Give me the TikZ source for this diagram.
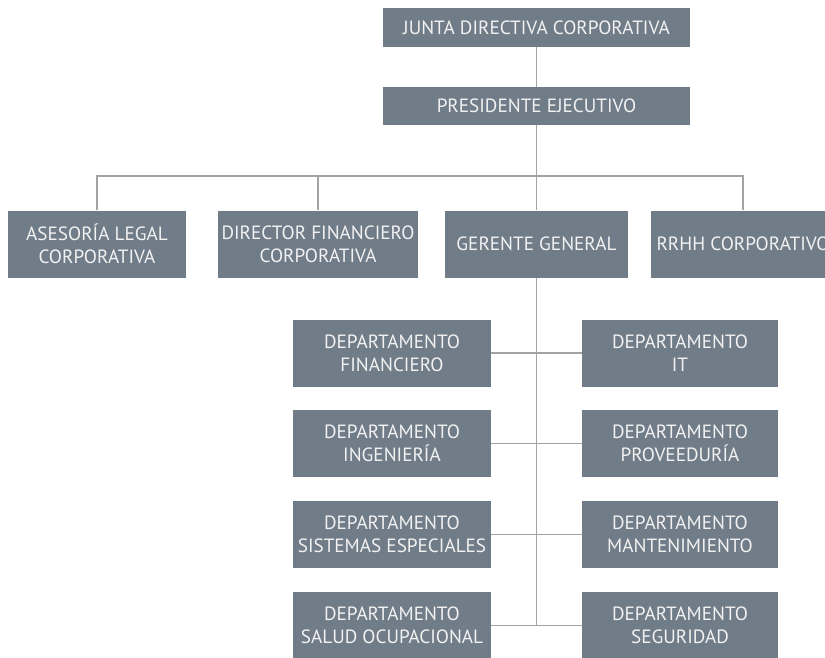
\documentclass[tikz,border=0pt]{standalone}
\usepackage{fontspec}
\setmainfont{PT Sans}
\definecolor{boxgray}{HTML}{707C88}
\definecolor{linegray}{HTML}{A3A3A3}
\tikzset{
  unit/.style={fill=boxgray, text=white!95!black, align=center, inner sep=0pt,
    font=\fontsize{19.2}{23}\selectfont, minimum height=#1},
  unit/.default=67pt,
  link/.style={draw=linegray, line width=1.1pt}
}
\begin{document}
\begin{tikzpicture}[x=1pt, y=-1pt]
   \useasboundingbox (0,0) rectangle (825,658);

   % top of the chart
   \node [unit=39pt, minimum width=307pt] (junta) at (536.5,27.5) {JUNTA DIRECTIVA CORPORATIVA};
   \node [unit=38pt, minimum width=307pt] (pres) at (536.5,106) {PRESIDENTE EJECUTIVO};

   % second level
   \node [unit, minimum width=178pt] (ases) at (97,244) {ASESORÍA LEGAL\\CORPORATIVA};
   \node [unit, minimum width=200pt] (dirf) at (318,244) {DIRECTOR FINANCIERO\\CORPORATIVA};
   \node [unit, minimum width=183pt] (ger) at (536.5,244) {GERENTE GENERAL};
   \node [unit, minimum width=184pt] (rrhh) at (743,244) {RRHH CORPORATIVO};
   \coordinate (bus) at (536.5,176);

   % departments
   \node [unit, minimum width=198pt] (finan) at (392,353) {DEPARTAMENTO\\FINANCIERO};
   \node [unit, minimum width=196pt] (it) at (680,353) {DEPARTAMENTO\\IT};
   \node [unit, minimum width=198pt] (ingen) at (392,443.5) {DEPARTAMENTO\\INGENIERÍA};
   \node [unit, minimum width=196pt] (prov) at (680,443.5) {DEPARTAMENTO\\PROVEEDURÍA};
   \node [unit, minimum width=198pt] (sist) at (392,534.5) {DEPARTAMENTO\\SISTEMAS ESPECIALES};
   \node [unit, minimum width=196pt] (mant) at (680,534.5) {DEPARTAMENTO\\MANTENIMIENTO};
   \node [unit, minimum width=198pt] (salud) at (392,625.5) {DEPARTAMENTO\\SALUD OCUPACIONAL};
   \node [unit, minimum width=196pt] (segur) at (680,625.5) {DEPARTAMENTO\\SEGURIDAD};

   % connectors
   \draw [link] (junta.south) -- (pres.north);
   \draw [link] (pres.south) -- (bus);
   \draw [link] (ases.north) |- (bus) -| (rrhh.north);
   \draw [link] (dirf.north) -- (dirf.north |- bus);
   \draw [link] (bus) -- (ger.north);
   \draw [link] (ger.south) -- (ger.south |- salud.east);
   \draw [link] (finan.east) -- (it.west);
   \draw [link] (ingen.east) -- (prov.west);
   \draw [link] (sist.east) -- (mant.west);
   \draw [link] (salud.east) -- (segur.west);
\end{tikzpicture}
\end{document}
